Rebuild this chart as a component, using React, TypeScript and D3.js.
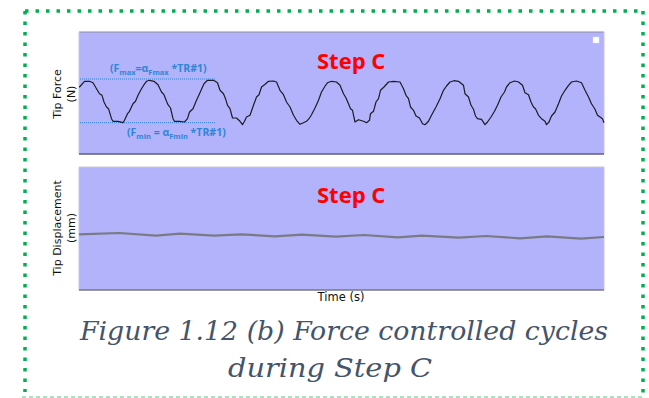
import * as d3 from "d3";

// time in s, force in N, displacement in mm
const forceTime = [0, 0.1, 1.1, 2.1, 2.8, 3.5, 4.1, 4.6, 5.0, 5.5, 5.9, 6.5, 6.8, 7.8, 8.8, 9.1, 9.7, 10.1, 10.8, 11.3, 11.8, 12.5, 13.0, 13.5, 14.1, 15.0, 15.8, 16.5, 17.0, 17.5, 17.8, 18.3, 18.8, 19.1, 20.1, 21.1, 21.7, 22.1, 22.8, 23.5, 24.1, 25.0, 25.7, 26.9, 27.7, 28.2, 28.9, 29.3, 29.7, 30.2, 30.7, 31.5, 32.2, 32.7, 33.1, 33.5, 34.2, 34.9, 35.5, 36.0, 36.5, 37.1, 37.9, 38.9, 39.5, 40.2, 40.9, 41.5, 42.2, 42.9, 43.5, 44.2, 44.9, 45.5, 46.0, 46.5, 47.2, 47.9, 48.5, 49.1, 49.7, 50.5, 51.5, 52.2, 52.9, 53.4, 53.9, 54.3, 54.7, 55.2, 55.9, 56.9, 57.5, 58.1, 58.3, 58.9, 59.4, 59.9, 60.3, 61.0, 61.9, 62.9, 64.2, 64.9, 65.4, 65.9, 66.3, 66.9, 67.4, 68.1, 68.7, 69.2, 69.9, 70.5, 71.4, 72.2, 72.9, 73.5, 74.2, 75.0, 75.9, 76.9, 77.2, 77.9, 78.4, 78.9, 79.3, 79.7, 80.5, 81.2, 81.7, 82.4, 83.1, 83.7, 84.4, 85.1, 85.5, 86.2, 87.1, 87.9, 88.7, 89.2, 89.9, 90.4, 90.9, 91.3, 91.9, 92.5, 93.2, 93.5, 94.0, 94.5, 95.2, 95.9, 96.5, 97.2, 97.9, 98.5, 99.5, 100.5, 101.2, 101.9, 102.5, 103.2, 103.7, 104.2, 104.7, 105.0];
const forceValues = [6.7, 6.7, 7.27, 7.27, 7.13, 6.53, 6.03, 5.87, 5.2, 4.7, 4.53, 3.53, 3.27, 3.27, 3.13, 3.37, 4.03, 4.27, 5.03, 5.27, 5.87, 6.53, 6.93, 7.27, 7.37, 7.27, 6.93, 6.2, 5.93, 5.27, 4.93, 4.6, 3.53, 3.27, 3.27, 3.2, 3.53, 4.2, 4.53, 5.37, 6.03, 7.03, 7.37, 7.37, 7.13, 6.37, 6.03, 5.53, 4.87, 4.53, 3.6, 3.6, 3.27, 2.93, 3.27, 3.7, 3.87, 4.87, 5.7, 5.93, 6.7, 6.93, 7.27, 7.3, 7.2, 6.37, 5.93, 5.2, 4.7, 3.87, 3.37, 2.97, 3.13, 3.27, 3.53, 3.93, 4.6, 5.37, 6.2, 6.7, 7.13, 7.27, 7.2, 6.87, 6.03, 5.6, 5.03, 4.53, 4.37, 3.2, 3.43, 3.27, 3.13, 3.37, 4.03, 4.27, 5.2, 5.53, 6.37, 6.7, 7.2, 7.27, 7.2, 6.53, 5.87, 5.53, 4.7, 4.37, 3.8, 3.6, 3.03, 2.93, 3.27, 3.87, 4.7, 5.53, 6.37, 6.8, 7.2, 7.33, 7.27, 6.87, 6.03, 5.7, 4.87, 4.47, 3.8, 3.53, 3.47, 2.93, 3.2, 3.7, 4.27, 4.87, 5.7, 6.2, 6.7, 7.13, 7.3, 7.2, 6.87, 6.13, 5.93, 5.2, 4.7, 4.53, 3.87, 3.53, 3.27, 2.93, 3.2, 3.8, 4.2, 5.03, 5.8, 6.37, 6.87, 7.2, 7.3, 7.13, 6.37, 5.7, 5.03, 4.47, 3.87, 3.7, 3.53, 3.13];

const dispTime = [0, 8.0, 15.4, 20.2, 27.0, 32.4, 39.2, 44.6, 51.4, 57.0, 63.8, 68.6, 76.0, 81.4, 88.2, 93.6, 100.4, 105];
const dispValues = [5.57, 5.7, 5.43, 5.63, 5.43, 5.57, 5.37, 5.53, 5.33, 5.5, 5.27, 5.43, 5.23, 5.4, 5.17, 5.37, 5.13, 5.3];

// reference force levels and how far the dotted guides run
const fMaxLevel = 7.5;
const fMinLevel = 3.13;
const guideTime = [0.2, 27.2];

const W = 649;
const H = 398;
const panelBg = "#b2b3fb";
const blue = "#2f86d6";
const green = "#00b050";

export default function App() {
  const x = d3.scaleLinear().domain([0, 105]).range([79, 604]);
  const yF = d3.scaleLinear().domain([0, 12.2]).range([154, 32]);
  const yD = d3.scaleLinear().domain([0, 12.3]).range([290, 167]);

  const forceLine = d3
    .line<number>()
    .x((d, i) => x(forceTime[i]))
    .y((d) => yF(d));
  const dispLine = d3
    .line<number>()
    .x((d, i) => x(dispTime[i]))
    .y((d) => yD(d));

  const annoFont = { fontFamily: "Open Sans", fontWeight: 700, fontSize: 10.5, fill: blue };
  const captionFont = {
    fontFamily: "DejaVu Serif",
    fontStyle: "italic",
    fontStretch: "condensed",
    fontSize: 26,
    fill: "#44546a",
  };

  return (
    <svg
      width={W}
      height={H}
      style={{ position: "absolute", left: 0, top: 0, background: "#fff" }}
    >
      {/* green frame */}
      <line x1={25} y1={11} x2={643} y2={11} stroke={green} strokeWidth={3.5} strokeDasharray="3.5 7" />
      <line x1={25} y1={11} x2={25} y2={392} stroke={green} strokeWidth={3.5} strokeDasharray="3.5 7" />
      <line x1={643} y1={11} x2={643} y2={395} stroke={green} strokeWidth={3.5} strokeDasharray="3.5 7" />
      <line x1={22} y1={397} x2={645} y2={397} stroke="#5cbf80" strokeWidth={1} strokeDasharray="4 3" />

      {/* top panel */}
      <rect x={x(0)} y={yF(12.2)} width={x(105) - x(0)} height={yF(0) - yF(12.2)} fill={panelBg} />
      <line x1={x(0)} x2={x(105)} y1={yF(12.2)} y2={yF(12.2)} stroke="#8c8ca6" strokeWidth={1} />
      <line x1={x(0)} x2={x(0)} y1={yF(12.2)} y2={yF(0)} stroke="#c4c4e8" strokeWidth={1} />
      <line x1={x(105)} x2={x(105)} y1={yF(12.2)} y2={yF(0)} stroke="#c4c4e8" strokeWidth={1} />
      <line x1={x(0)} x2={x(105)} y1={yF(0)} y2={yF(0)} stroke="#5e5e84" strokeWidth={1.5} />
      <rect x={593} y={37} width={6} height={6} fill="#fff" stroke="#e4e4f4" strokeWidth={0.5} />

      <line x1={x(guideTime[0])} x2={x(guideTime[1])} y1={yF(fMaxLevel)} y2={yF(fMaxLevel)} stroke={blue} strokeWidth={1} strokeDasharray="1 1" />
      <line x1={x(guideTime[0])} x2={x(guideTime[1])} y1={yF(fMinLevel)} y2={yF(fMinLevel)} stroke={blue} strokeWidth={1} strokeDasharray="1 1" />

      <path d={forceLine(forceValues) ?? ""} fill="none" stroke="#1c1c24" strokeWidth={1.2} strokeLinejoin="round" />

      <text x={110} y={72} {...annoFont}>
        (F<tspan fontSize={7.5} dy={3}>max</tspan>
        <tspan dy={-3}>=α</tspan>
        <tspan fontSize={7.5} dy={3}>Fmax</tspan>
        <tspan dy={-3}> *TR#1)</tspan>
      </text>
      <text x={127} y={136} {...annoFont}>
        (F<tspan fontSize={7.5} dy={3}>min</tspan>
        <tspan dy={-3}> = α</tspan>
        <tspan fontSize={7.5} dy={3}>Fmin</tspan>
        <tspan dy={-3}> *TR#1)</tspan>
      </text>

      <text x={317} y={69} fill="#ff0000" fontFamily="Open Sans" fontWeight={700} fontSize={22}>
        Step C
      </text>

      <text transform="translate(61,94) rotate(-90)" textAnchor="middle" fontFamily="DejaVu Sans" fontSize={11} fill="#111">
        Tip Force
      </text>
      <text transform="translate(75,94) rotate(-90)" textAnchor="middle" fontFamily="DejaVu Sans" fontSize={11} fill="#111">
        (N)
      </text>

      {/* bottom panel */}
      <rect x={x(0)} y={yD(12.3)} width={x(105) - x(0)} height={yD(0) - yD(12.3)} fill={panelBg} />
      <line x1={x(0)} x2={x(105)} y1={yD(12.3)} y2={yD(12.3)} stroke="#c8c8d0" strokeWidth={1} />
      <line x1={x(0)} x2={x(0)} y1={yD(12.3)} y2={yD(0)} stroke="#c4c4e8" strokeWidth={1} />
      <line x1={x(105)} x2={x(105)} y1={yD(12.3)} y2={yD(0)} stroke="#c4c4e8" strokeWidth={1} />
      <line x1={x(0)} x2={x(105)} y1={yD(0)} y2={yD(0)} stroke="#77777f" strokeWidth={1.5} />

      <path d={dispLine(dispValues) ?? ""} fill="none" stroke="#7a7a84" strokeWidth={2.2} />

      <text x={317} y={203} fill="#ff0000" fontFamily="Open Sans" fontWeight={700} fontSize={22}>
        Step C
      </text>

      <text transform="translate(61,228) rotate(-90)" textAnchor="middle" fontFamily="DejaVu Sans" fontSize={11} fill="#111">
        Tip Displacement
      </text>
      <text transform="translate(75,228) rotate(-90)" textAnchor="middle" fontFamily="DejaVu Sans" fontSize={11} fill="#111">
        (mm)
      </text>

      <text x={341} y={301} textAnchor="middle" fontFamily="DejaVu Sans" fontSize={11.5} fill="#111">
        Time (s)
      </text>

      {/* caption */}
      <text x={80} y={340} {...captionFont} textLength={528} lengthAdjust="spacingAndGlyphs">
        Figure 1.12 (b) Force controlled cycles
      </text>
      <text x={228} y={377} {...captionFont} textLength={204} lengthAdjust="spacingAndGlyphs">
        during Step C
      </text>
    </svg>
  );
}
